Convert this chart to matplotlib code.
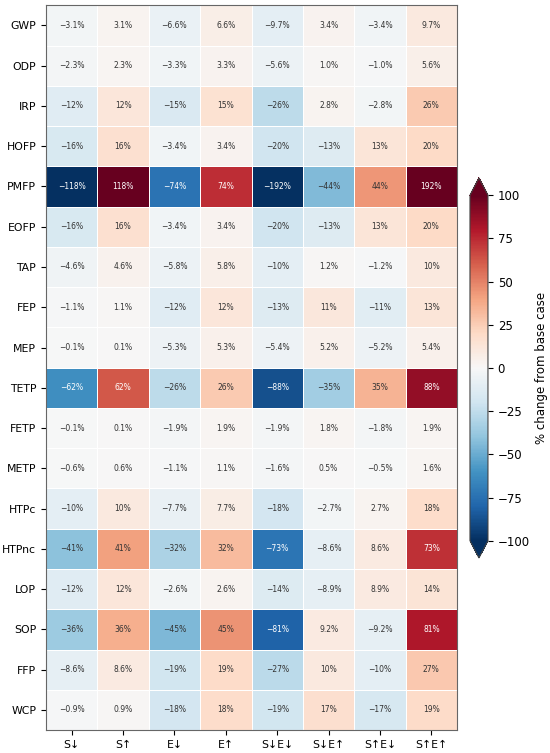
import numpy as np
import matplotlib
matplotlib.use("Agg")
from matplotlib import pyplot as plt

# impact categories (rows) and scenarios (columns)
categories = ["GWP", "ODP", "IRP", "HOFP", "PMFP", "EOFP", "TAP", "FEP", "MEP",
              "TETP", "FETP", "METP", "HTPc", "HTPnc", "LOP", "SOP", "FFP", "WCP"]
scenarios = ["S↓", "S↑", "E↓", "E↑", "S↓E↓", "S↓E↑", "S↑E↓", "S↑E↑"]

# % change from base case
values = [
    [-3.1, 3.1, -6.6, 6.6, -9.7, 3.4, -3.4, 9.7],
    [-2.3, 2.3, -3.3, 3.3, -5.6, 1.0, -1.0, 5.6],
    [-12, 12, -15, 15, -26, 2.8, -2.8, 26],
    [-16, 16, -3.4, 3.4, -20, -13, 13, 20],
    [-118, 118, -74, 74, -192, -44, 44, 192],
    [-16, 16, -3.4, 3.4, -20, -13, 13, 20],
    [-4.6, 4.6, -5.8, 5.8, -10, 1.2, -1.2, 10],
    [-1.1, 1.1, -12, 12, -13, 11, -11, 13],
    [-0.1, 0.1, -5.3, 5.3, -5.4, 5.2, -5.2, 5.4],
    [-62, 62, -26, 26, -88, -35, 35, 88],
    [-0.1, 0.1, -1.9, 1.9, -1.9, 1.8, -1.8, 1.9],
    [-0.6, 0.6, -1.1, 1.1, -1.6, 0.5, -0.5, 1.6],
    [-10, 10, -7.7, 7.7, -18, -2.7, 2.7, 18],
    [-41, 41, -32, 32, -73, -8.6, 8.6, 73],
    [-12, 12, -2.6, 2.6, -14, -8.9, 8.9, 14],
    [-36, 36, -45, 45, -81, 9.2, -9.2, 81],
    [-8.6, 8.6, -19, 19, -27, 10, -10, 27],
    [-0.9, 0.9, -18, 18, -19, 17, -17, 19],
]
data = np.array(values)

fig = plt.figure(figsize=(5.5, 7.53), dpi=100)
ax = fig.add_axes([0.0836, 0.0305, 0.7474, 0.9625])
cax = fig.add_axes([0.8545, 0.259, 0.0327, 0.5047])

mesh = ax.pcolormesh(data, cmap="RdBu_r", vmin=-100, vmax=100,
                     edgecolor="white", linewidth=0.6)
ax.set_xlim(0, len(scenarios))
ax.set_ylim(len(categories), 0)
ax.set_xticks(np.arange(len(scenarios)) + 0.5)
ax.set_xticklabels(scenarios)
ax.set_yticks(np.arange(len(categories)) + 0.5)
ax.set_yticklabels(categories)
ax.tick_params(labelsize=7.8)
for s in ax.spines.values():
    s.set_edgecolor("#666666")

for i in range(data.shape[0]):
    for j in range(data.shape[1]):
        v = data[i, j]
        if abs(v) >= 10:
            txt = f"{v:.0f}%"
        else:
            txt = f"{v:.1f}%"
        txt = txt.replace("-", "\u2212")
        col = "white" if abs(v) > 55 else "#333333"
        ax.text(j + 0.5, i + 0.5, txt, ha="center", va="center",
                fontsize=5.5, color=col)

cb = fig.colorbar(mesh, cax=cax, extend="both")
cb.set_label("% change from base case", fontsize=8.5)
cb.set_ticks([-100, -75, -50, -25, 0, 25, 50, 75, 100])
cb.ax.tick_params(labelsize=8.5)
cb.outline.set_edgecolor("#444444")

fig.savefig("out.png", dpi=100)
